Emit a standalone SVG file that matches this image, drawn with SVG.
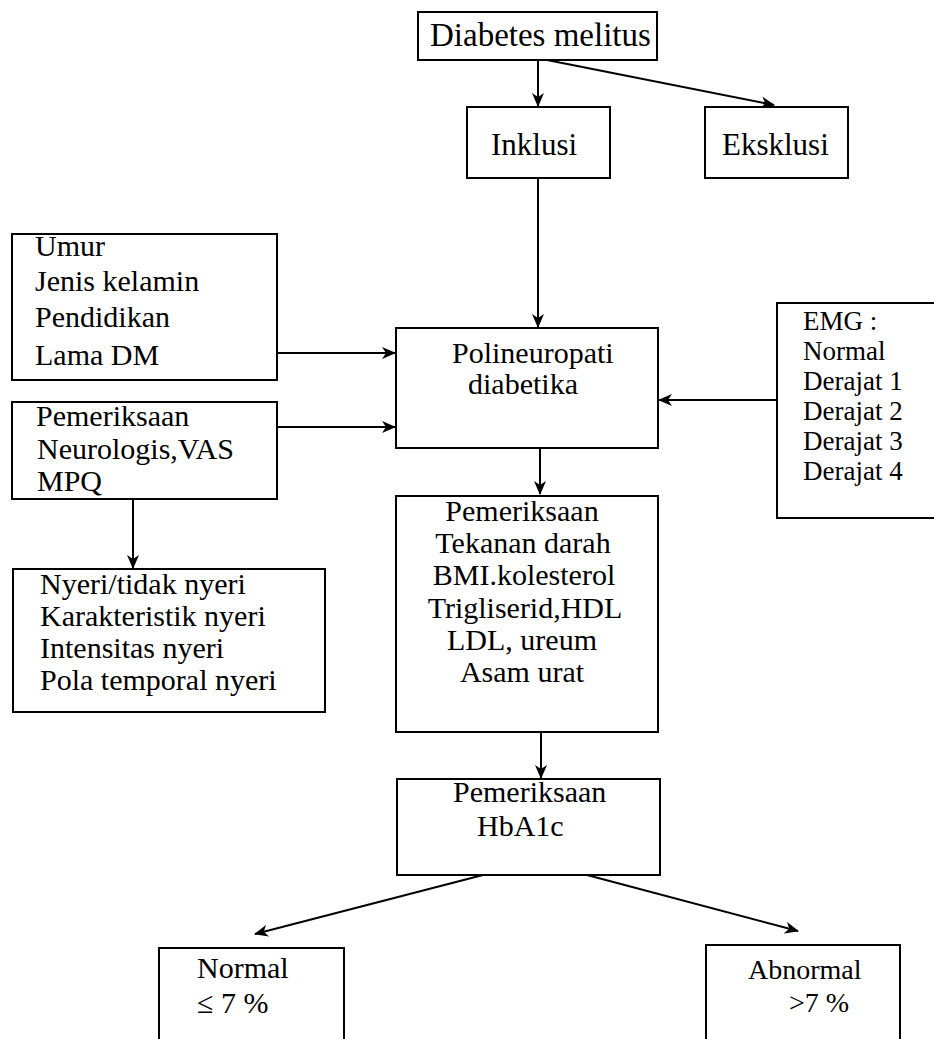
<svg xmlns="http://www.w3.org/2000/svg" width="934" height="1039" viewBox="0 0 934 1039">
<style>
.box{fill:#fff;stroke:#000;stroke-width:2}
.t{font-family:"Liberation Serif","Times New Roman",serif;font-size:30px;fill:#000}
.s{font-size:27px}
.c{stroke:#000;stroke-width:2;fill:none;marker-end:url(#ah)}
</style>
<defs>
<marker id="ah" markerWidth="14" markerHeight="12" refX="13" refY="6" orient="auto" markerUnits="userSpaceOnUse">
<path d="M0,0 L14,6 L0,12 L4,6 z" fill="#000"/>
</marker>
</defs>
<rect width="934" height="1039" fill="#fff"/>
<g id="connectors">
<line class="c" x1="538" y1="60" x2="538" y2="106"/>
<line class="c" x1="547" y1="60" x2="774" y2="105"/>
<line class="c" x1="538" y1="178" x2="538" y2="327"/>
<line class="c" x1="277" y1="353" x2="395" y2="353"/>
<line class="c" x1="277" y1="427" x2="395" y2="427"/>
<line class="c" x1="777" y1="400" x2="659" y2="400"/>
<line class="c" x1="540" y1="448" x2="540" y2="494"/>
<line class="c" x1="133" y1="499" x2="133" y2="568"/>
<line class="c" x1="541" y1="732" x2="541" y2="778"/>
<line class="c" x1="483" y1="875" x2="255" y2="934"/>
<line class="c" x1="587" y1="875" x2="798" y2="931"/>
</g>
<g id="diabetes">
<rect class="box" x="418" y="12" width="239" height="48"/>
<text class="t" x="430" y="46" style="font-size:33px">Diabetes melitus</text>
</g>
<g id="inklusi">
<rect class="box" x="467" y="107" width="143" height="71"/>
<text class="t" x="491" y="155" style="font-size:31px">Inklusi</text>
</g>
<g id="eksklusi">
<rect class="box" x="705" y="107" width="143" height="71"/>
<text class="t" x="722" y="155" style="font-size:31px">Eksklusi</text>
</g>
<g id="demografi">
<rect class="box" x="12" y="234" width="265" height="146"/>
<text class="t" x="35" y="256">Umur</text>
<text class="t" x="35" y="291">Jenis kelamin</text>
<text class="t" x="35" y="327">Pendidikan</text>
<text class="t" x="35" y="365">Lama DM</text>
</g>
<g id="neurologis">
<rect class="box" x="12" y="402" width="265" height="97"/>
<text class="t" x="36" y="426">Pemeriksaan</text>
<text class="t" x="37" y="459">Neurologis,VAS</text>
<text class="t" x="37" y="491">MPQ</text>
</g>
<g id="polineuropati">
<rect class="box" x="396" y="328" width="262" height="120"/>
<text class="t" x="452" y="363">Polineuropati</text>
<text class="t" x="468" y="394">diabetika</text>
</g>
<g id="emg">
<rect class="box" x="777" y="303" width="170" height="215"/>
<text class="t s" x="803" y="330">EMG :</text>
<text class="t s" x="803" y="360">Normal</text>
<text class="t s" x="803" y="390">Derajat 1</text>
<text class="t s" x="803" y="420">Derajat 2</text>
<text class="t s" x="803" y="450">Derajat 3</text>
<text class="t s" x="803" y="480">Derajat 4</text>
</g>
<g id="nyeri">
<rect class="box" x="13" y="569" width="312" height="143"/>
<text class="t" x="40" y="594">Nyeri/tidak nyeri</text>
<text class="t" x="40" y="626">Karakteristik nyeri</text>
<text class="t" x="40" y="658">Intensitas nyeri</text>
<text class="t" x="40" y="690">Pola temporal nyeri</text>
</g>
<g id="pemeriksaan-lab" text-anchor="middle">
<rect class="box" x="396" y="496" width="262" height="236"/>
<text class="t" x="522" y="521">Pemeriksaan</text>
<text class="t" x="523" y="553">Tekanan darah</text>
<text class="t" x="524" y="585">BMI.kolesterol</text>
<text class="t" x="525" y="618">Trigliserid,HDL</text>
<text class="t" x="522" y="650">LDL, ureum</text>
<text class="t" x="522" y="682">Asam urat</text>
</g>
<g id="hba1c">
<rect class="box" x="397" y="779" width="263" height="96"/>
<text class="t" x="453" y="802">Pemeriksaan</text>
<text class="t" x="477" y="836">HbA1c</text>
</g>
<g id="normal">
<rect class="box" x="159" y="948" width="185" height="100"/>
<text class="t" x="197" y="978">Normal</text>
<text class="t" x="197" y="1013">≤ 7 %</text>
</g>
<g id="abnormal">
<rect class="box" x="706" y="945" width="194" height="100"/>
<text class="t" x="748" y="979" style="font-size:28px">Abnormal</text>
<text class="t" x="789" y="1012" style="font-size:28px">&gt;7 %</text>
</g>
</svg>
